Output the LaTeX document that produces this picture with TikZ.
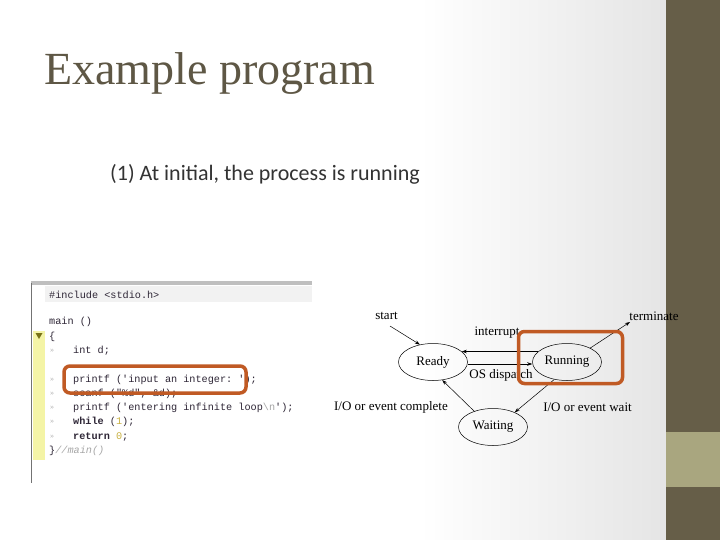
\documentclass[tikz,border=0pt]{standalone}
\usepackage{fontspec}
\setmainfont{Liberation Serif}
\setmonofont{Liberation Mono}
\newfontfamily\slidesans{Carlito}
\usetikzlibrary{shapes.geometric,arrows.meta}
\definecolor{bandDark}{HTML}{665E48}
\definecolor{bandLight}{HTML}{A9A67F}
\definecolor{titleCol}{HTML}{5E5745}
\definecolor{hiOrange}{HTML}{C05A24}
\definecolor{codeCol}{HTML}{2E2636}
\definecolor{gutterYel}{HTML}{F4F4A6}
\definecolor{numGold}{HTML}{C8B040}
\tikzset{
  state/.style={draw, ellipse, line width=0.5pt, minimum width=69pt, minimum height=37pt, inner sep=0pt, font=\fontsize{13}{15}\selectfont},
  lbl/.style={inner sep=0pt, font=\fontsize{13}{15}\selectfont},
  arr/.style={-{Stealth[length=5pt,width=3.5pt]}, line width=0.5pt},
  code/.style={anchor=west, inner sep=0pt, font=\ttfamily\fontsize{10.2}{12}\selectfont, text=codeCol},
  gmark/.style={anchor=west, inner sep=0pt, font=\fontsize{8}{9}\selectfont, text=black!30},
  hibox/.style={draw=hiOrange, line width=3.5pt, rounded corners=6pt}
}
\begin{document}
\begin{tikzpicture}[x=1pt,y=-1pt]
\useasboundingbox (0,0) rectangle (720,540);
% background
\fill[white] (0,0) rectangle (720,540);
\shade[left color=white, right color=black!10] (420,0) rectangle (660,540);
\fill[black!10] (660,0) rectangle (666,540);
\fill[bandDark] (666,0) rectangle (720,540);
\fill[bandLight] (666,432) rectangle (720,487);
% title
\node[anchor=base west, inner sep=0pt, text=titleCol, font=\fontsize{46}{50}\selectfont] (title) at (44,85) {Example program};
\node[anchor=base west, inner sep=0pt, text=black!80, font=\slidesans\fontsize{22}{26}\selectfont] (subtitle) at (110,181) {(1) At initial, the process is running};
% code screenshot
\fill[white] (31,283) rectangle (312,483);
\fill[black!5] (45,286) rectangle (312,302);
\fill[black!25] (31,281) rectangle (312,285);
\draw[black!55, line width=0.8pt] (31,283) -- (31,483);
\fill[gutterYel] (33,331) rectangle (45,460);
\fill[olive!80!black] (35.5,333) -- (42.5,333) -- (39,339) -- cycle;
\node[code] (l1) at (49,295) {\#include <stdio.h>};
\node[code] (l2) at (49,322) {main ()};
\node[code] (l3) at (49,337) {\{};
\node[code] (l4) at (73,351) {int d;};
\node[code] (l5) at (73,380) {printf ('input an integer: ');};
\node[code] (l6) at (73,394) {scanf ("\%d", \&d);};
\node[code] (l7) at (73,408) {printf ('entering infinite loop{\color{black!35}\textbackslash n}');};
\node[code] (l8) at (73,422) {\textbf{while} ({\color{numGold}1});};
\node[code] (l9) at (73,437) {\textbf{return} {\color{numGold}0};};
\node[code] (l10) at (49,451) {\}{\color{black!35}\itshape //main()}};
\foreach \yy/\nm in {351/a,380/b,394/c,408/d,422/e,437/f}{
  \node[gmark] (gm\nm) at (50,\yy) {»};
}
\node[hibox, minimum width=182pt, minimum height=27pt, inner sep=0pt] (codebox) at (155,379.5) {};
% state diagram
\node[state] (Ready) at (433,362) {Ready};
\node[state] (Running) at (567,362) {Running};
\node[state] (Waiting) at (493,427) {Waiting};
\node[lbl] (startlbl) at (386.5,316) {start};
\node[lbl] (termlbl) at (654,316) {terminate};
\node[lbl] (intlbl) at (497,333) {interrupt};
\node[lbl] (displbl) at (501,375) {OS dispatch};
\node[lbl] (waitlbl) at (587.5,407) {I/O or event wait};
\node[lbl] (complbl) at (391,407) {I/O or event complete};
\coordinate (startA) at (390,326);
\coordinate (termB) at (630,322);
\draw[arr] (startA) -- (Ready.127);
\draw[arr] (Running.31) -- (termB);
\draw[arr] (Running.160) -- (Ready.20);
\draw[arr] ([yshift=-2pt]Ready.east) -- ([yshift=-2pt]Running.west);
\draw[arr] (Running.234) -- (Waiting.34);
\draw[arr] (Waiting.140) -- (Ready.-63);
\node[hibox, minimum width=104pt, minimum height=52pt, inner sep=0pt] (runbox) at (570.5,357.5) {};
\end{tikzpicture}
\end{document}
